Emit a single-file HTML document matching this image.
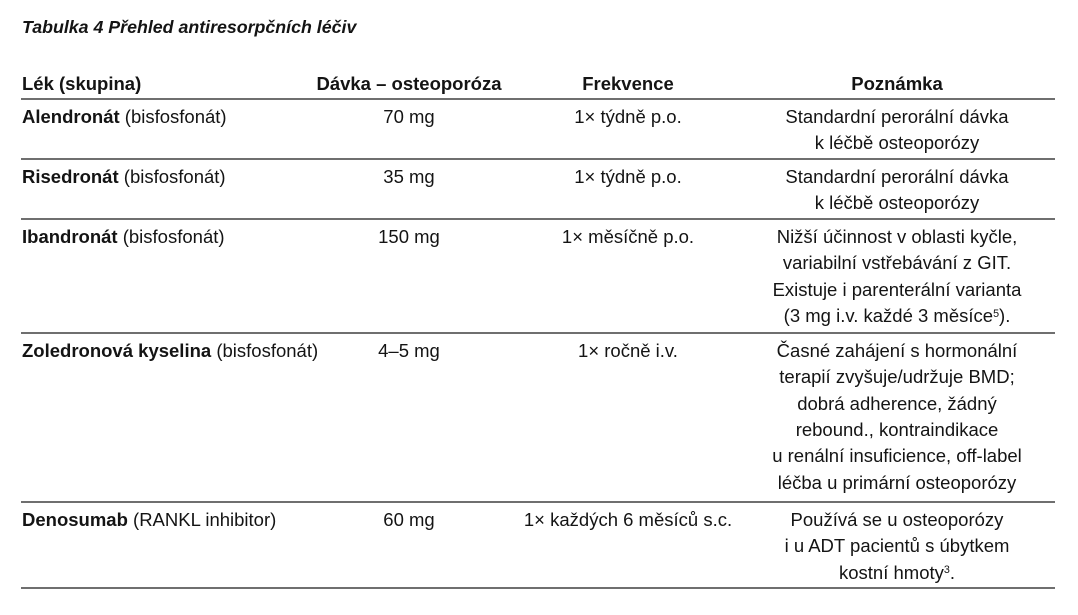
<!DOCTYPE html>
<html>
<head>
<meta charset="utf-8">
<style>
  html, body { margin:0; padding:0; background:#fff; }
  body { width:1078px; height:615px; position:relative; overflow:hidden;
         font-family:"Liberation Sans", Arial, sans-serif; color:#141414; font-size:18.5px; }
  .t { position:absolute; line-height:26.4px; white-space:nowrap; }
  .c { text-align:center; width:320px; }
  .title { position:absolute; left:22px; top:14.3px; font-size:17.8px; line-height:26.4px;
           font-weight:bold; font-style:italic; white-space:nowrap; }
  .hr { position:absolute; left:21px; width:1034px; height:2px; background:#6f6f6f; }
  b { font-weight:bold; }
  sup { font-size:0.58em; vertical-align:0; position:relative; top:-0.5em; line-height:0; }
</style>
</head>
<body>
<div class="title">Tabulka 4 Přehled antiresorpčních léčiv</div>

<!-- header -->
<div class="t" style="left:22px;top:70.8px;"><b>Lék (skupina)</b></div>
<div class="t c" style="left:249px;top:70.8px;"><b>Dávka – osteoporóza</b></div>
<div class="t c" style="left:468px;top:70.8px;"><b>Frekvence</b></div>
<div class="t c" style="left:737px;top:70.8px;"><b>Poznámka</b></div>

<div class="hr" style="top:98px;"></div>

<!-- Alendronát -->
<div class="t" style="left:22px;top:103.8px;"><b>Alendronát</b> (bisfosfonát)</div>
<div class="t c" style="left:249px;top:103.8px;">70 mg</div>
<div class="t c" style="left:468px;top:103.8px;">1× týdně p.o.</div>
<div class="t c" style="left:737px;top:103.8px;">Standardní perorální dávka<br>k léčbě osteoporózy</div>

<div class="hr" style="top:158px;"></div>

<!-- Risedronát -->
<div class="t" style="left:22px;top:163.8px;"><b>Risedronát</b> (bisfosfonát)</div>
<div class="t c" style="left:249px;top:163.8px;">35 mg</div>
<div class="t c" style="left:468px;top:163.8px;">1× týdně p.o.</div>
<div class="t c" style="left:737px;top:163.8px;">Standardní perorální dávka<br>k léčbě osteoporózy</div>

<div class="hr" style="top:218px;"></div>

<!-- Ibandronát -->
<div class="t" style="left:22px;top:223.8px;"><b>Ibandronát</b> (bisfosfonát)</div>
<div class="t c" style="left:249px;top:223.8px;">150 mg</div>
<div class="t c" style="left:468px;top:223.8px;">1× měsíčně p.o.</div>
<div class="t c" style="left:737px;top:223.8px;">Nižší účinnost v oblasti kyčle,<br>variabilní vstřebávání z GIT.<br>Existuje i parenterální varianta<br>(3 mg i.v. každé 3 měsíce<sup>5</sup>).</div>

<div class="hr" style="top:332px;"></div>

<!-- Zoledronová kyselina -->
<div class="t" style="left:22px;top:337.8px;"><b>Zoledronová kyselina</b> (bisfosfonát)</div>
<div class="t c" style="left:249px;top:337.8px;">4–5 mg</div>
<div class="t c" style="left:468px;top:337.8px;">1× ročně i.v.</div>
<div class="t c" style="left:737px;top:337.8px;">Časné zahájení s hormonální<br>terapií zvyšuje/udržuje BMD;<br>dobrá adherence, žádný<br>rebound., kontraindikace<br>u renální insuficience, off-label<br>léčba u primární osteoporózy</div>

<div class="hr" style="top:501px;"></div>

<!-- Denosumab -->
<div class="t" style="left:22px;top:506.8px;"><b>Denosumab</b> (RANKL inhibitor)</div>
<div class="t c" style="left:249px;top:506.8px;">60 mg</div>
<div class="t c" style="left:468px;top:506.8px;">1× každých 6 měsíců s.c.</div>
<div class="t c" style="left:737px;top:506.8px;">Používá se u osteoporózy<br>i u ADT pacientů s úbytkem<br>kostní hmoty<sup>3</sup>.</div>

<div class="hr" style="top:587px;"></div>
</body>
</html>
